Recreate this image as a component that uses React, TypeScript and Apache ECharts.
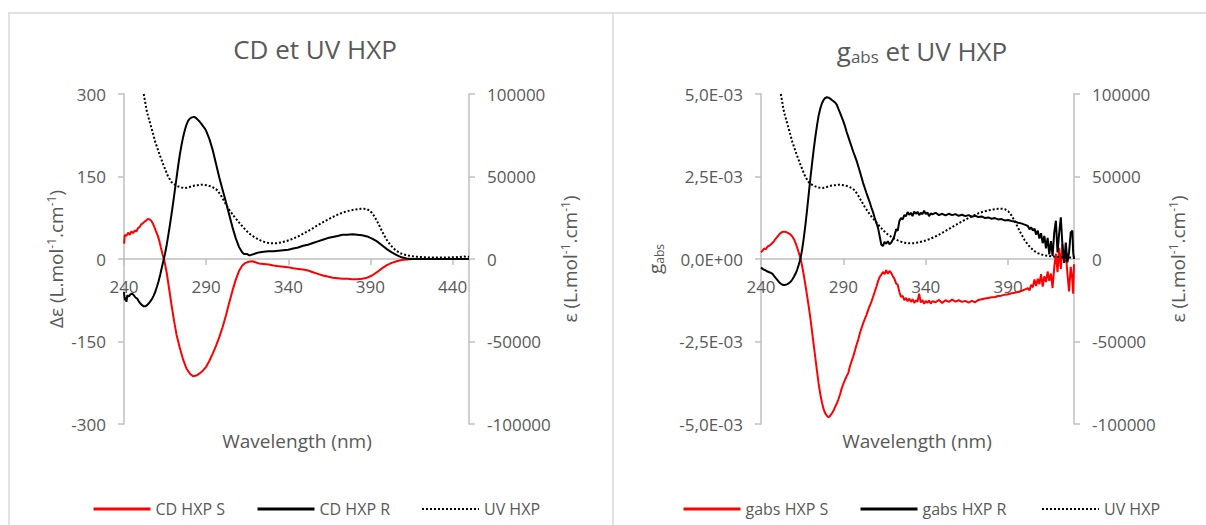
import React, { useEffect, useRef } from 'react';
import * as echarts from 'echarts';

// ---------- data (wavelength nm, value) ----------
const cdS: [number, number][] = [
  [240, 28], [240.5, 44], [241.5, 42], [242.5, 48], [243.5, 44], [244.5, 50], [245.5, 47], [246.5, 52], [247.5, 50],
  [248.5, 56], [249.5, 58], [250.5, 63], [251.5, 65], [252.5, 68], [253.5, 70], [254.5, 73], [255.5, 72], [256.5, 70],
  [257.5, 65], [258.5, 58], [259.5, 50], [260.5, 43], [261.5, 33], [262.5, 20], [263.5, 8], [264.5, -2], [266, -25],
  [267.5, -55], [269, -85], [270.5, -113], [272, -138], [274, -162], [276, -183], [278, -199], [280, -208], [282, -213],
  [284, -212], [286, -208], [288, -203], [290, -196], [292, -185], [294, -172], [296, -158], [298, -142], [300, -124],
  [302, -103], [304, -80], [306, -58], [308, -38], [310, -22], [312, -12], [314, -7], [316, -5], [318, -4], [320, -6],
  [322, -8], [325, -9], [328, -10], [331, -12], [334, -13], [337, -14], [340, -15], [343, -17], [346, -18], [349, -19],
  [352, -21], [355, -24], [358, -27], [361, -30], [364, -32], [367, -34], [370, -35], [373, -36], [376, -36], [379, -37],
  [382, -37], [385, -36], [388, -34], [391, -30], [394, -24], [397, -17], [400, -11], [403, -7], [406, -4], [409, -2],
  [412, -1], [416, 0], [420, 0], [430, 0], [440, 0], [450, 0],
];

const cdR: [number, number][] = [
  [240, -60], [240.5, -75], [241, -70], [241.5, -78], [242, -66], [243, -68], [244, -64], [245, -63], [246, -66],
  [247, -70], [248, -72], [249, -77], [250, -81], [251, -84], [252, -86], [253, -86], [254, -84], [255, -81], [256, -77],
  [257, -73], [258, -67], [259, -60], [260, -51], [261, -41], [262, -29], [263, -16], [264, -3], [265, 10], [266, 26],
  [267, 44], [268, 63], [269, 83], [270, 104], [271, 126], [272, 148], [273, 170], [274, 190], [275, 207], [276, 222],
  [277, 234], [278, 244], [279, 251], [280, 255], [281, 257], [282, 258], [283, 258], [284, 256], [285, 253], [286, 250],
  [287, 246], [288, 242], [289, 238], [290, 233], [292, 218], [294, 198], [296, 173], [298, 148], [300, 126], [302, 104],
  [304, 81], [306, 58], [308, 38], [310, 22], [312, 12], [313, 9], [314, 9], [315, 9], [316, 7], [317, 7], [318, 8],
  [320, 10], [322, 12], [325, 13], [328, 14], [331, 14], [334, 15], [337, 16], [340, 17], [343, 19], [346, 21],
  [349, 24], [352, 26], [355, 29], [358, 32], [361, 35], [364, 38], [367, 40], [370, 42], [373, 44], [376, 44],
  [379, 45], [382, 44], [385, 43], [388, 41], [391, 37], [394, 32], [397, 25], [400, 18], [403, 12], [406, 7], [409, 3],
  [412, 1], [415, 0], [420, 0], [430, 0], [440, 0], [450, 0],
];

const uvHXP: [number, number][] = [
  [252, 100000], [254, 89000], [256.7, 79400], [259, 71000], [261.7, 63200], [264, 57000], [266.8, 50100], [269, 46500],
  [271, 45000], [273, 44000], [275, 43300], [277, 43000], [279, 43300], [281, 44000], [283, 44500], [285, 44700],
  [287, 45000], [289, 44900], [291, 44600], [293, 44000], [295, 43000], [297, 41500], [299, 38500], [301, 35000],
  [303, 31500], [305, 28500], [307, 25800], [309, 23400], [311, 21000], [313, 18700], [315, 16600], [317, 14900],
  [319, 13500], [321, 12300], [323, 11300], [325, 10500], [327, 9900], [329, 9600], [331, 9500], [333, 9600],
  [336, 10100], [339, 10900], [342, 12000], [345, 13200], [348, 14700], [351, 16400], [354, 18100], [357, 19900],
  [360, 21600], [363, 23300], [366, 24900], [369, 26400], [372, 27700], [375, 28700], [378, 29500], [381, 30000],
  [384, 30400], [386, 30500], [388, 30200], [390, 29000], [392, 26500], [394, 23000], [396, 19000], [398, 15000],
  [400, 11500], [402, 8700], [404, 6500], [406, 4800], [408, 3600], [410, 2800], [413, 2100], [416, 1600], [420, 1200],
  [425, 1000], [430, 900], [435, 900], [440, 1000], [444, 1200], [447, 1500], [450, 1300],
];

const gabsS: [number, number][] = [
  [240, 2.0e-4], [241, 2.6e-4], [242, 3.2e-4], [243, 3.0e-4], [244, 3.8e-4], [245, 4.0e-4], [246, 4.4e-4], [247, 4.9e-4],
  [248, 5.5e-4], [249, 6.2e-4], [250, 6.8e-4], [251, 7.4e-4], [252, 7.9e-4], [253, 8.2e-4], [254, 8.3e-4], [255, 8.2e-4],
  [256, 8.0e-4], [257, 7.7e-4], [258, 7.4e-4], [259, 6.8e-4], [260, 6.0e-4], [261, 4.8e-4], [262, 3.4e-4], [263, 1.8e-4],
  [264, 2e-5], [265, -2.2e-4], [266, -5.0e-4], [267, -8.0e-4], [268, -1.12e-3], [269, -1.45e-3], [270, -1.8e-3],
  [271, -2.2e-3], [272, -2.6e-3], [273, -3.0e-3], [274, -3.4e-3], [275, -3.78e-3], [276, -4.1e-3], [277, -4.35e-3],
  [278, -4.55e-3], [279, -4.68e-3], [280, -4.75e-3], [281, -4.8e-3], [282, -4.75e-3], [283, -4.68e-3], [284, -4.6e-3],
  [285, -4.48e-3], [286, -4.38e-3], [287, -4.25e-3], [288, -4.1e-3], [289, -3.92e-3], [290, -3.78e-3], [291, -3.66e-3],
  [292, -3.55e-3], [293, -3.45e-3], [294, -3.25e-3], [295, -3.1e-3], [296, -2.95e-3], [297, -2.78e-3], [298, -2.6e-3],
  [299, -2.45e-3], [300, -2.25e-3], [301, -2.1e-3], [302, -1.95e-3], [303, -1.82e-3], [304, -1.7e-3], [305, -1.55e-3],
  [306, -1.42e-3], [307, -1.3e-3], [308, -1.15e-3], [309, -1.0e-3], [310, -8.5e-4], [311, -6.8e-4], [312, -5.5e-4],
  [313, -4.8e-4], [314, -3.9e-4], [315, -4.6e-4], [316, -3.4e-4], [317, -4.5e-4], [318, -3.6e-4], [319, -4.2e-4],
  [320, -5.2e-4], [321, -6.0e-4], [322, -7.4e-4], [323, -7.8e-4], [324, -1.0e-3], [325, -1.15e-3], [326, -1.12e-3],
  [327, -1.25e-3], [328, -1.18e-3], [329, -1.28e-3], [330, -1.2e-3], [331, -1.3e-3], [332, -1.22e-3], [333, -1.33e-3],
  [334, -1.25e-3], [335, -1.3e-3], [336, -1.05e-3], [337, -1.32e-3], [338, -1.24e-3], [339, -1.36e-3], [340, -1.27e-3],
  [341, -1.33e-3], [342, -1.26e-3], [343, -1.35e-3], [344, -1.28e-3], [346, -1.31e-3], [348, -1.24e-3], [350, -1.33e-3],
  [352, -1.25e-3], [354, -1.3e-3], [356, -1.23e-3], [358, -1.29e-3], [360, -1.25e-3], [362, -1.3e-3], [364, -1.27e-3],
  [366, -1.32e-3], [368, -1.27e-3], [370, -1.31e-3], [372, -1.24e-3], [374, -1.22e-3], [376, -1.2e-3], [378, -1.18e-3],
  [380, -1.16e-3], [382, -1.15e-3], [384, -1.12e-3], [386, -1.11e-3], [388, -1.08e-3], [390, -1.07e-3], [392, -1.04e-3],
  [394, -1.02e-3], [396, -1.0e-3], [398, -9.7e-4], [400, -9.3e-4], [402, -8.8e-4], [403, -9.5e-4], [404, -7.8e-4],
  [405, -8.6e-4], [406, -6.2e-4], [407, -8.2e-4], [408, -6.0e-4], [409, -7.6e-4], [410, -4.6e-4], [411, -8.4e-4],
  [412, -5.2e-4], [413, -7.0e-4], [414, -3.8e-4], [415, -6.6e-4], [416, -4.4e-4], [417, -8.8e-4], [418, -2.5e-4],
  [419, 1.6e-4], [420, -4.0e-4], [421, 3.4e-4], [422, -3.0e-4], [423, 4.6e-4], [424, -1.0e-4], [425, 2.0e-4],
  [426, -4.4e-4], [427, -9.8e-4], [428, -2.4e-4], [429, -6.2e-4], [429.5, -1.05e-3], [430, -1.6e-4],
];

const gabsR: [number, number][] = [
  [240, -2.6e-4], [241, -3.0e-4], [242, -3.3e-4], [243, -3.5e-4], [244, -3.8e-4], [245, -4.0e-4], [246, -4.2e-4],
  [247, -4.5e-4], [248, -5.2e-4], [249, -5.8e-4], [250, -6.4e-4], [251, -7.0e-4], [252, -7.5e-4], [253, -7.8e-4],
  [254, -7.9e-4], [255, -7.8e-4], [256, -7.6e-4], [257, -7.3e-4], [258, -6.9e-4], [259, -6.2e-4], [260, -5.4e-4],
  [261, -4.4e-4], [262, -3.2e-4], [263, -1.6e-4], [264, 2e-5], [265, 3.0e-4], [266, 6.5e-4], [267, 1.05e-3],
  [268, 1.5e-3], [269, 1.98e-3], [270, 2.45e-3], [271, 2.9e-3], [272, 3.32e-3], [273, 3.7e-3], [274, 4.05e-3],
  [275, 4.35e-3], [276, 4.56e-3], [277, 4.72e-3], [278, 4.82e-3], [279, 4.88e-3], [280, 4.9e-3], [281, 4.89e-3],
  [282, 4.86e-3], [283, 4.82e-3], [284, 4.78e-3], [285, 4.74e-3], [286, 4.68e-3], [287, 4.55e-3], [288, 4.43e-3],
  [289, 4.3e-3], [290, 4.17e-3], [291, 4.02e-3], [292, 3.85e-3], [293, 3.7e-3], [294, 3.55e-3], [295, 3.4e-3],
  [296, 3.25e-3], [297, 3.12e-3], [298, 2.98e-3], [299, 2.82e-3], [300, 2.65e-3], [301, 2.48e-3], [302, 2.3e-3],
  [303, 2.15e-3], [304, 2.0e-3], [305, 1.86e-3], [306, 1.72e-3], [307, 1.56e-3], [308, 1.42e-3], [309, 1.25e-3],
  [310, 1.1e-3], [311, 9.5e-4], [312, 7.0e-4], [313, 4.4e-4], [314, 3.9e-4], [315, 5.2e-4], [316, 4.6e-4],
  [317, 5.4e-4], [318, 4.5e-4], [319, 4.9e-4], [320, 5.8e-4], [321, 7.0e-4], [322, 9.0e-4], [323, 8.6e-4],
  [324, 1.15e-3], [325, 1.24e-3], [326, 1.2e-3], [327, 1.33e-3], [328, 1.3e-3], [329, 1.42e-3], [330, 1.34e-3],
  [331, 1.4e-3], [332, 1.3e-3], [333, 1.44e-3], [334, 1.37e-3], [335, 1.43e-3], [336, 1.33e-3], [337, 1.4e-3],
  [338, 1.36e-3], [339, 1.46e-3], [340, 1.36e-3], [341, 1.41e-3], [342, 1.3e-3], [343, 1.38e-3], [344, 1.35e-3],
  [346, 1.4e-3], [348, 1.33e-3], [350, 1.37e-3], [352, 1.32e-3], [354, 1.37e-3], [356, 1.33e-3], [358, 1.36e-3],
  [360, 1.31e-3], [362, 1.34e-3], [364, 1.3e-3], [366, 1.33e-3], [368, 1.28e-3], [370, 1.31e-3], [372, 1.27e-3],
  [374, 1.29e-3], [376, 1.24e-3], [378, 1.26e-3], [380, 1.22e-3], [382, 1.24e-3], [384, 1.2e-3], [386, 1.21e-3],
  [388, 1.17e-3], [390, 1.18e-3], [392, 1.15e-3], [394, 1.14e-3], [396, 1.1e-3], [398, 1.08e-3], [400, 1.04e-3],
  [402, 1.0e-3], [403, 9.0e-4], [404, 9.6e-4], [405, 8.6e-4], [406, 9.2e-4], [407, 7.4e-4], [408, 8.6e-4],
  [409, 6.2e-4], [410, 7.8e-4], [411, 4.8e-4], [412, 7.0e-4], [413, 3.2e-4], [414, 6.4e-4], [415, 1.4e-4],
  [416, 5.4e-4], [417, 9.0e-5], [418, 8.0e-4], [419, 1.16e-3], [420, 2.0e-4], [421, 7.8e-4], [422, 1.26e-3],
  [423, 4.0e-4], [424, -1.2e-4], [425, 5.0e-4], [426, -1.0e-4], [427, 2.0e-4], [428, 8.0e-4], [429, 8.6e-4],
  [429.5, 2.0e-4], [430, 0],
];

const leftLegendNames = ['CD HXP S', 'CD HXP R', 'UV HXP'];
const rightLegendNames = ['gabs HXP S', 'gabs HXP R', 'UV HXP'];
const xTitle = 'Wavelength (nm)';

// ---------- styles ----------
const FONT = "'Open Sans', 'Noto Sans', sans-serif";
const GRAY = '#595959';
const AXIS = '#bfbfbf';
const FRAME = '#d9d9d9';
const GRID_TOP = 94;
const GRID_H = 330;

function fmtSci(v: number): string {
  if (Math.abs(v) < 1e-12) return '0,0E+00';
  const exp = Math.floor(Math.log10(Math.abs(v)) + 1e-9);
  const mant = v / Math.pow(10, exp);
  const sign = exp < 0 ? '-' : '+';
  const e = String(Math.abs(exp)).padStart(2, '0');
  return mant.toFixed(1).replace('.', ',') + 'E' + sign + e;
}
const fmtPlain = (v: number) => String(v);

const tickLabel = { color: GRAY, fontSize: 17, fontFamily: FONT };
const nameRich = {
  a: { fontSize: 19, color: GRAY, fontFamily: FONT },
  s: { fontSize: 12, color: GRAY, fontFamily: FONT, padding: [0, 0, 9, 0] },
  b: { fontSize: 12, color: GRAY, fontFamily: FONT, padding: [9, 0, 0, 0] },
};
const epsName = '{a|ε (L.mol}{s|-1}{a|.cm}{s|-1}{a|)}';

// x axis sits at the zero of the symmetric y range (middle of the grid)
function xAxis(gridIndex: number, max: number) {
  return {
    type: 'value', gridIndex, min: 240, max, interval: 50,
    position: 'bottom', offset: -GRID_H / 2,
    axisLine: { show: true, onZero: false, lineStyle: { color: AXIS, width: 1.5 } },
    axisTick: { show: true, length: 6, lineStyle: { color: AXIS, width: 1.5 } },
    axisLabel: { ...tickLabel, margin: 19, showMaxLabel: false, formatter: fmtPlain },
    splitLine: { show: false },
  };
}

function yAxis(gridIndex: number, position: string, min: number, max: number, interval: number, name: string, nameGap: number, formatter: (v: number) => string) {
  return {
    type: 'value', gridIndex, position, min, max, interval,
    axisLine: { show: true, onZero: false, lineStyle: { color: AXIS, width: 1.5 } },
    axisTick: { show: true, length: 6, lineStyle: { color: AXIS, width: 1.5 } },
    axisLabel: { ...tickLabel, margin: 18, formatter },
    splitLine: { show: false },
    name, nameLocation: 'middle', nameRotate: 90, nameGap,
    nameTextStyle: { rich: nameRich },
  };
}

function lineSeries(name: string, data: [number, number][], xi: number, yi: number, color: string, dotted: boolean) {
  return {
    type: 'line', name, data, xAxisIndex: xi, yAxisIndex: yi,
    symbol: 'none', showSymbol: false, smooth: false,
    lineStyle: dotted ? { color, width: 2, type: [2, 2] } : { color, width: 2 },
    itemStyle: { color },
    emphasis: { disabled: true },
  };
}

function legendAt(name: string, left: number, dotted: boolean) {
  return {
    data: [name], left, top: 496, itemWidth: 57, itemHeight: 14, itemGap: 0,
    textStyle: { fontSize: 16, color: GRAY, fontFamily: FONT },
    lineStyle: { width: dotted ? 2 : 3 },
    itemStyle: { opacity: 0, borderWidth: 0 },
    selectedMode: false,
  };
}

function xTitleText(x: number) {
  return {
    type: 'text', x, y: 441,
    style: { text: xTitle, fontSize: 19, fontFamily: FONT, fill: GRAY, align: 'center', verticalAlign: 'middle' },
  };
}

export default function App() {
  const ref = useRef<HTMLDivElement>(null);
  useEffect(() => {
    const chart = echarts.init(ref.current!, null, { renderer: 'svg' });
    const option: any = {
      animation: false,
      backgroundColor: '#ffffff',
      title: [
        { text: 'CD et UV HXP', left: 310, top: 31, textAlign: 'center',
          textStyle: { fontSize: 26, fontWeight: 'normal', color: GRAY, fontFamily: FONT } },
        { text: '{a|g}{b|abs}{a| et UV HXP}', left: 917, top: 31, textAlign: 'center',
          textStyle: { fontSize: 26, fontWeight: 'normal', color: GRAY, fontFamily: FONT,
            rich: {
              a: { fontSize: 26, color: GRAY, fontFamily: FONT },
              b: { fontSize: 17, color: GRAY, fontFamily: FONT, padding: [12, 0, 0, 0] },
            } } },
      ],
      grid: [
        { left: 124, top: GRID_TOP, width: 345, height: GRID_H, containLabel: false, outerBoundsMode: 'none' },
        { left: 761, top: GRID_TOP, width: 313, height: GRID_H, containLabel: false, outerBoundsMode: 'none' },
      ],
      xAxis: [xAxis(0, 450), xAxis(1, 430)],
      yAxis: [
        yAxis(0, 'left', -300, 300, 150, '{a|Δε (L.mol}{s|-1}{a|.cm}{s|-1}{a|)}', 58, fmtPlain),
        yAxis(0, 'right', -100000, 100000, 50000, epsName, 90, fmtPlain),
        yAxis(1, 'left', -0.005, 0.005, 0.0025, '{a|g}{b|abs}', 96, fmtSci),
        yAxis(1, 'right', -100000, 100000, 50000, epsName, 93, fmtPlain),
      ],
      legend: [
        legendAt(leftLegendNames[0], 87, false),
        legendAt(leftLegendNames[1], 251, false),
        legendAt(leftLegendNames[2], 416, true),
        legendAt(rightLegendNames[0], 677, false),
        legendAt(rightLegendNames[1], 854, false),
        legendAt(rightLegendNames[2], 1036, true),
      ],
      graphic: [
        { type: 'line', shape: { x1: 8, y1: 13, x2: 1206, y2: 13 }, style: { stroke: FRAME, lineWidth: 1.5 } },
        { type: 'line', shape: { x1: 9, y1: 13, x2: 9, y2: 525 }, style: { stroke: FRAME, lineWidth: 1.5 } },
        { type: 'line', shape: { x1: 613, y1: 13, x2: 613, y2: 525 }, style: { stroke: FRAME, lineWidth: 1.5 } },
        xTitleText(297),
        xTitleText(917),
      ],
      series: [
        lineSeries('CD HXP S', cdS, 0, 0, '#ff0000', false),
        lineSeries('CD HXP R', cdR, 0, 0, '#000000', false),
        lineSeries('UV HXP', uvHXP, 0, 1, '#000000', true),
        lineSeries('gabs HXP S', gabsS, 1, 2, '#ff0000', false),
        lineSeries('gabs HXP R', gabsR, 1, 2, '#000000', false),
        lineSeries('UV HXP', uvHXP, 1, 3, '#000000', true),
      ],
    };
    chart.setOption(option);
    return () => chart.dispose();
  }, []);
  return (
    <div
      ref={ref}
      style={{ position: 'absolute', left: 0, top: 0, width: 1206, height: 525, background: '#ffffff' }}
    />
  );
}
